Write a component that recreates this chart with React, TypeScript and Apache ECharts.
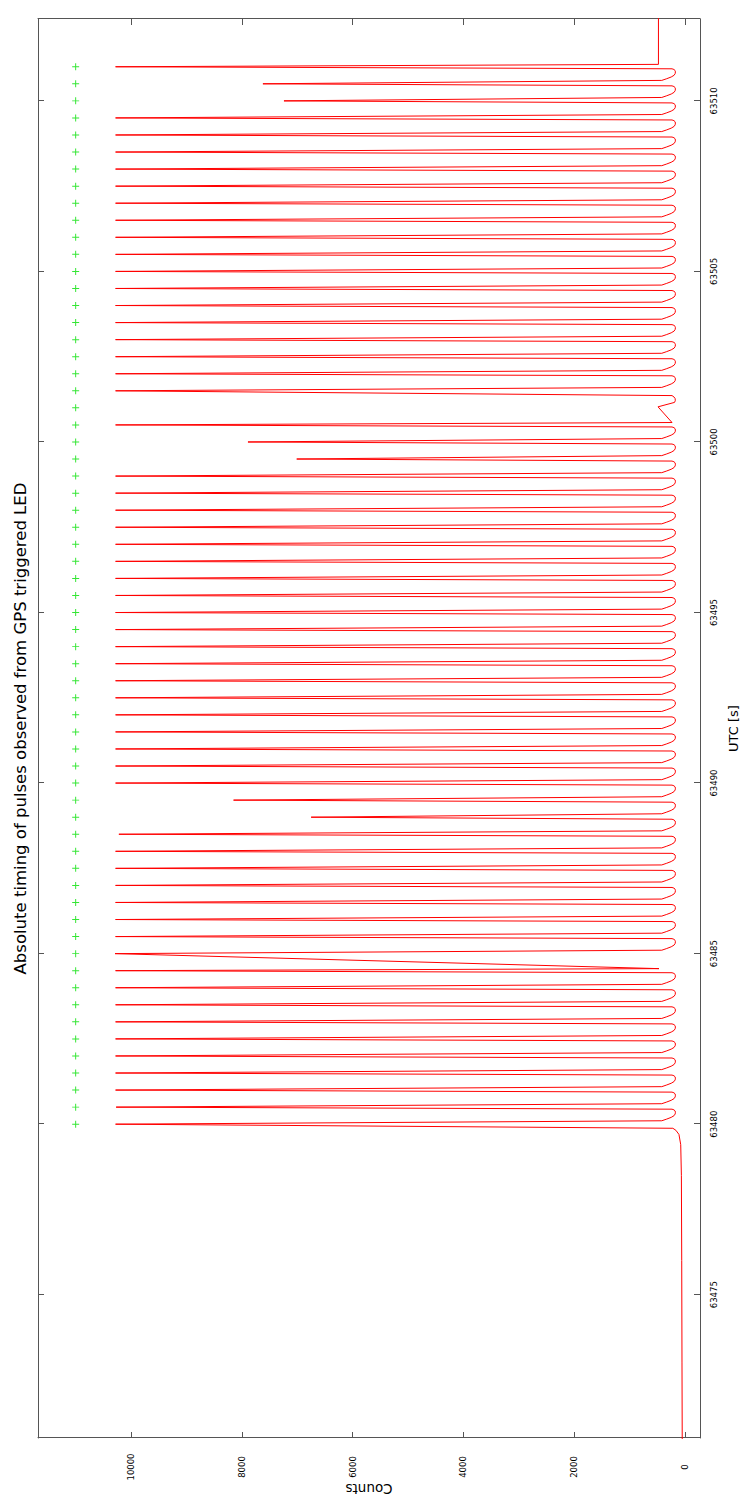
import React, { useEffect, useRef } from "react";
import * as echarts from "echarts";

// Time axis (UTC seconds) and count axis ranges
const timeMin = 63470.8;
const timeMax = 63512.4;
const countMin = -270;
const countMax = 11680;

const timeTicks = [63475, 63480, 63485, 63490, 63495, 63500, 63505, 63510];
const countTicks = [0, 2000, 4000, 6000, 8000, 10000];

// GPS pulse-per-second markers, drawn at a fixed level
const ppsLevel = 11000;
const ppsTimes = [
  63480, 63480.5, 63481, 63481.5, 63482, 63482.5, 63483, 63483.5, 63484, 63484.5,
  63485, 63485.5, 63486, 63486.5, 63487, 63487.5, 63488, 63488.5, 63489, 63489.5,
  63490, 63490.5, 63491, 63491.5, 63492, 63492.5, 63493, 63493.5, 63494, 63494.5,
  63495, 63495.5, 63496, 63496.5, 63497, 63497.5, 63498, 63498.5, 63499, 63499.5,
  63500, 63500.5, 63501, 63501.5, 63502, 63502.5, 63503, 63503.5, 63504, 63504.5,
  63505, 63505.5, 63506, 63506.5, 63507, 63507.5, 63508, 63508.5, 63509, 63509.5,
  63510, 63510.5, 63511,
];

// Observed LED pulse peaks (UTC seconds, counts)
const pulseTimes = [
  63480, 63480.5, 63481, 63481.5, 63482, 63482.5, 63483, 63483.5, 63484, 63484.5,
  63485, 63485.5, 63486, 63486.5, 63487, 63487.5, 63488, 63488.5, 63489, 63489.5,
  63490, 63490.5, 63491, 63491.5, 63492, 63492.5, 63493, 63493.5, 63494, 63494.5,
  63495, 63495.5, 63496, 63496.5, 63497, 63497.5, 63498, 63498.5, 63499, 63499.5,
  63500, 63500.5, 63501.5, 63502, 63502.5, 63503, 63503.5, 63504, 63504.5,
  63505, 63505.5, 63506, 63506.5, 63507, 63507.5, 63508, 63508.5, 63509, 63509.5,
  63510, 63510.5, 63511,
];
const pulseCounts = [
  10280, 10270, 10280, 10280, 10280, 10280, 10280, 10280, 10280, 10280,
  10290, 10280, 10280, 10280, 10280, 10280, 10280, 10220, 6750, 8150,
  10280, 10280, 10280, 10280, 10280, 10280, 10280, 10280, 10280, 10280,
  10280, 10280, 10280, 10280, 10280, 10280, 10280, 10280, 10280, 7010,
  7890, 10280, 10280, 10280, 10280, 10280, 10280, 10280, 10280,
  10280, 10280, 10280, 10280, 10280, 10280, 10280, 10280, 10280, 10280,
  7240, 7620, 10280,
];

// Background counts before the first pulse
const baseline: [number, number][] = [
  [63470.3, 50], [63473, 55], [63476, 60], [63478.5, 66], [63479.4, 78],
  [63479.7, 110], [63479.82, 165], [63479.88, 220],
];

// Decay after a regular pulse: [seconds after peak, counts]
const decayLobe: [number, number][] = [
  [0.10, 420], [0.15, 330], [0.20, 250], [0.25, 198], [0.30, 178],
  [0.35, 174], [0.39, 180], [0.42, 200], [0.44, 235],
];

// Irregular stretches that follow particular pulses
const afterPulse: Record<string, [number, number][]> = {
  "63484.5": [[0.06, 470]],
  "63500.5": [[0.07, 235], [0.53, 488], [0.66, 190], [0.71, 176], [0.77, 178], [0.82, 200], [0.86, 235]],
  "63511": [[0.07, 480], [3, 480]],
};

const titleText = "Absolute timing of pulses observed from GPS triggered LED";

const plusSymbol =
  "path://M4.3,0h1.4v4.3h4.3v1.4h-4.3v4.3h-1.4v-4.3h-4.3v-1.4h4.3z";

function buildTrace(): [number, number][] {
  const trace: [number, number][] = [...baseline];
  pulseTimes.forEach((t, i) => {
    trace.push([t, pulseCounts[i]]);
    const tail = afterPulse[String(t)] ?? decayLobe;
    tail.forEach(([dt, c]) => trace.push([t + dt, c]));
  });
  return trace;
}

const frameColor = "#555";
const plainNumber = (v: number) => String(v);

function timeAxis(position: "bottom" | "top", labelled: boolean) {
  return {
    type: "value",
    position,
    min: timeMin,
    max: timeMax,
    name: labelled ? "UTC [s]" : "",
    nameLocation: "middle",
    nameGap: 27,
    nameMoveOverlap: false,
    nameTextStyle: { fontSize: 13, color: "#000", fontFamily: "DejaVu Sans" },
    axisLine: { show: true, onZero: false, lineStyle: { color: frameColor, width: 1 } },
    axisTick: {
      show: true,
      inside: true,
      length: 6,
      customValues: timeTicks,
      lineStyle: { color: frameColor, width: 1 },
    },
    axisLabel: {
      show: labelled,
      customValues: timeTicks,
      formatter: plainNumber,
      fontSize: 8.5,
      color: "#000",
      margin: 9,
      fontFamily: "DejaVu Sans",
    },
    splitLine: { show: false },
  };
}

function countAxis(position: "left" | "right", labelled: boolean) {
  return {
    type: "value",
    position,
    min: countMin,
    max: countMax,
    name: labelled ? "Counts" : "",
    nameLocation: "middle",
    nameRotate: 90,
    nameGap: 44,
    nameMoveOverlap: false,
    nameTextStyle: { fontSize: 13.5, color: "#000", fontFamily: "DejaVu Sans" },
    axisLine: { show: true, onZero: false, lineStyle: { color: frameColor, width: 1 } },
    axisTick: {
      show: true,
      inside: true,
      length: 6,
      customValues: countTicks,
      lineStyle: { color: frameColor, width: 1 },
    },
    axisLabel: {
      show: labelled,
      customValues: countTicks,
      formatter: plainNumber,
      fontSize: 8.5,
      color: "#000",
      align: "center",
      margin: 29,
      fontFamily: "DejaVu Sans",
    },
    splitLine: { show: false },
  };
}

export default function App() {
  const ref = useRef<HTMLDivElement>(null);

  useEffect(() => {
    document.documentElement.style.overflow = "hidden";
    if (!ref.current) return;
    const chart = echarts.init(ref.current, null, { renderer: "svg" });
    chart.setOption({
      animation: false,
      backgroundColor: "#fff",
      textStyle: { fontFamily: "DejaVu Sans" },
      grid: { left: 66, right: 19, top: 38, bottom: 42, outerBoundsMode: "none" },
      xAxis: [timeAxis("bottom", true), timeAxis("top", false)],
      yAxis: [countAxis("left", true), countAxis("right", false)],
      graphic: [
        {
          type: "text",
          x: 775.5,
          y: 20,
          style: {
            text: titleText,
            fontSize: 16.5,
            fontFamily: "DejaVu Sans",
            fill: "#000",
            textAlign: "center",
            textVerticalAlign: "middle",
          },
        },
      ],
      series: [
        {
          type: "line",
          xAxisIndex: 0,
          yAxisIndex: 0,
          data: buildTrace(),
          showSymbol: false,
          symbol: "none",
          clip: true,
          silent: true,
          lineStyle: { color: "#ff0000", width: 1 },
        },
        {
          type: "scatter",
          xAxisIndex: 0,
          yAxisIndex: 0,
          data: ppsTimes.map((t) => [t, ppsLevel]),
          symbol: plusSymbol,
          symbolSize: 7,
          silent: true,
          itemStyle: { color: "#00e000" },
        },
      ],
    });
    return () => chart.dispose();
  }, []);

  // Landscape plot turned a quarter turn counter-clockwise to fill the portrait page
  return (
    <div
      ref={ref}
      style={{
        position: "absolute",
        left: 0,
        top: 0,
        width: 1504,
        height: 742,
        transformOrigin: "0 0",
        transform: "translate(0px, 1504px) rotate(-90deg)",
        background: "#fff",
      }}
    />
  );
}
